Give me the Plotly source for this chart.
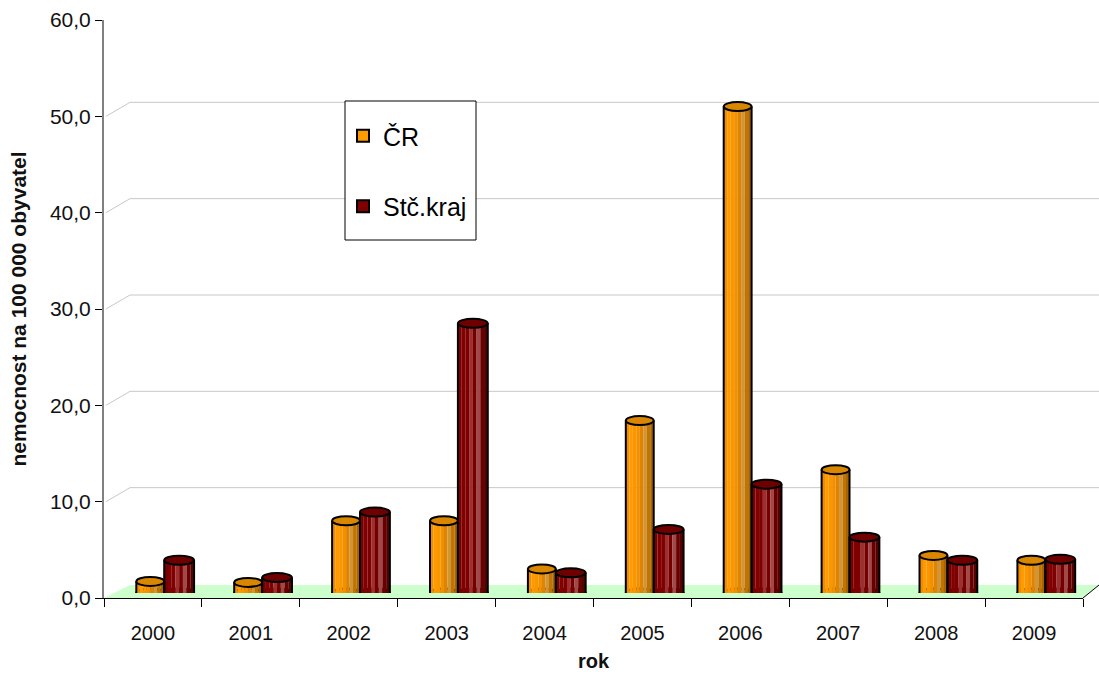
import plotly.graph_objects as go

# Incidence per 100 000 inhabitants, Czech Republic vs. Central Bohemian Region
years = ["2000", "2001", "2002", "2003", "2004", "2005", "2006", "2007", "2008", "2009"]
cr_values = [1.2, 1.1, 7.5, 7.5, 2.5, 17.9, 50.5, 12.8, 3.9, 3.4]
stc_values = [3.4, 1.6, 8.4, 28.0, 2.1, 6.6, 11.3, 5.8, 3.4, 3.5]
series_names = ["ČR", "Stč.kraj"]
y_ticks = [0, 10, 20, 30, 40, 50, 60]

W, H = 1099, 675
FONT = "Liberation Sans, Arial, sans-serif"


def px_x(p):
    return p / W


def px_y(p):
    return 1 - p / H


# plot area (pixels)
X0, X1 = 104, 1083
Y_TOP, Y_BASE = 20, 598
BAR_BASE = 593          # cylinders stand a little behind the front edge
WALL_DX, WALL_DY = 26, 14  # depth offset of the back wall

# cylinder shading, left to right
cr_strips = ["#f08c00", "#ff9a00", "#fa9600", "#f29000", "#e08400",
             "#d0953a", "#c27400", "#a96400"]
stc_strips = ["#780000", "#820000", "#7e0000", "#9c3030",
              "#760000", "#a24848", "#680000", "#560000"]
cr_top, stc_top = "#d98600", "#6e0000"
cr_legend, stc_legend = "#ff9900", "#800000"

# bar spans inside each category (category units)
spans = [(-0.17, 0.115), (0.115, 0.42)]

fig = go.Figure()

shapes = []

# green floor
shapes.append(dict(
    type="path", xref="paper", yref="paper", layer="below",
    path=(f"M {px_x(X0)},{px_y(Y_BASE)} L {px_x(X0 + WALL_DX)},{px_y(Y_BASE - 13)} "
          f"L {px_x(W)},{px_y(Y_BASE - 13)} L {px_x(X1)},{px_y(Y_BASE)} Z"),
    fillcolor="#ccffcc", line=dict(width=0)))
shapes.append(dict(type="line", xref="paper", yref="paper",
                   x0=px_x(X1), y0=px_y(Y_BASE), x1=px_x(W), y1=px_y(Y_BASE - 13),
                   line=dict(color="black", width=1)))

# back wall gridlines with their slanted connectors
for v in y_ticks[1:-1]:
    shapes.append(dict(type="line", xref="paper", yref="y", layer="below",
                       ysizemode="pixel", yanchor=v,
                       x0=px_x(X0 + 2), x1=px_x(X0 + WALL_DX), y0=0, y1=WALL_DY,
                       line=dict(color="#c8c8c8", width=1)))
    shapes.append(dict(type="line", xref="paper", yref="y", layer="below",
                       ysizemode="pixel", yanchor=v,
                       x0=px_x(X0 + WALL_DX), x1=1, y0=WALL_DY, y1=WALL_DY,
                       line=dict(color="#c8c8c8", width=1)))

# cylinders built from vertical shading strips
for s, (vals, strips, top_col) in enumerate(
        [(cr_values, cr_strips, cr_top), (stc_values, stc_strips, stc_top)]):
    a, b = spans[s]
    n = len(strips)
    w = (b - a) / n
    for k, col in enumerate(strips):
        fig.add_trace(go.Bar(
            x=years, y=vals, xaxis="x", yaxis="y2",
            offset=a + k * w, width=w * 1.02,
            marker=dict(color=col, line=dict(width=0)),
            showlegend=False, hoverinfo="skip"))
    for i, v in enumerate(vals):
        # rounded bottom
        shapes.append(dict(type="circle", xref="x", yref="y2", layer="below",
                           x0=i + a, x1=i + b, ysizemode="pixel", yanchor=0,
                           y0=-4.5, y1=4.5, fillcolor=strips[n // 2],
                           line=dict(color="black", width=2)))
        # sides
        for xe in (i + a, i + b):
            shapes.append(dict(type="line", xref="x", yref="y2",
                               x0=xe, x1=xe, y0=0, y1=v,
                               line=dict(color="black", width=2)))
        # top cap
        shapes.append(dict(type="circle", xref="x", yref="y2",
                           x0=i + a, x1=i + b, ysizemode="pixel", yanchor=v,
                           y0=-4.5, y1=4.5, fillcolor=top_col,
                           line=dict(color="black", width=2)))

# legend box
shapes.append(dict(type="rect", xref="paper", yref="paper",
                   x0=px_x(345), x1=px_x(476), y0=px_y(240), y1=px_y(101),
                   fillcolor="white", line=dict(color="black", width=1), layer="above"))

for name, col in zip(series_names, [cr_legend, stc_legend]):
    fig.add_trace(go.Scatter(
        x=[None], y=[None], xaxis="x", yaxis="y2", mode="markers", name=name,
        legendgroup=name,
        marker=dict(symbol="square", size=17, color=col,
                    line=dict(color="black", width=1.5))))

fig.update_layout(
    width=W, height=H,
    margin=dict(l=0, r=0, t=0, b=0, autoexpand=False),
    paper_bgcolor="white", plot_bgcolor="rgba(0,0,0,0)",
    separators=", ",
    barmode="overlay",
    font=dict(family=FONT, size=21, color="#111111"),
    shapes=shapes,
    showlegend=True,
    legend=dict(x=px_x(343), y=px_y(113), xanchor="left", yanchor="top",
                bgcolor="rgba(0,0,0,0)", borderwidth=0,
                font=dict(family=FONT, size=25, color="black"),
                tracegroupgap=35, itemsizing="constant"),
    xaxis=dict(domain=[px_x(X0), px_x(X1)], anchor="y", automargin=False,
               type="category", range=[-0.5, 9.5],
               showline=True, linecolor="black", linewidth=1,
               ticks="outside", ticklen=8, tickcolor="black", tickson="boundaries",
               ticklabelstandoff=17,
               showgrid=False, zeroline=False,
               tickfont=dict(size=20, family=FONT),
               title=dict(text="<b>rok</b>", font=dict(size=20, family=FONT), standoff=10)),
    yaxis=dict(domain=[px_y(Y_BASE), px_y(Y_TOP)], anchor="x", automargin=False,
               range=[0, 60], tickvals=y_ticks, tickformat=".1f",
               showline=True, linecolor="#808080", linewidth=2,
               ticks="outside", ticklen=7, tickcolor="black",
               showgrid=False, zeroline=False,
               tickfont=dict(size=21, family=FONT),
               title=dict(text="<b>nemocnost na 100 000 obyvatel</b>",
                          font=dict(size=21, family=FONT), standoff=18)),
    yaxis2=dict(domain=[px_y(BAR_BASE), px_y(Y_TOP - 5)], anchor="x",
                automargin=False,
                range=[0, 60], visible=False, showgrid=False, zeroline=False),
)

fig.write_html("out.html")
